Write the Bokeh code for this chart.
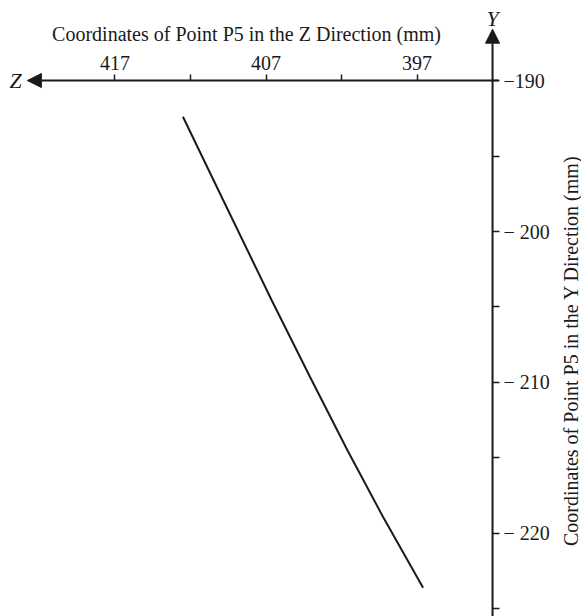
import math
from bokeh.plotting import figure
from bokeh.models import (Range1d, LinearAxis, FixedTicker, Arrow, NormalHead, Label)
from bokeh.embed import file_html
from bokeh.resources import INLINE

# ---- data ----
z_mm = [412.5, 409.8, 406.6, 404.1, 401.6, 399.2, 396.6]
y_mm = [-192.4, -198.0, -204.6, -209.6, -214.5, -219.0, -223.6]

z_major = [417, 407, 397]
z_minor = [412, 402]
y_major = [-190, -200, -210, -220]
y_minor = [-195, -205, -215, -225]
y_tick_labels = ["\u2212190", "\u2212 200", "\u2212 210", "\u2212 220"]

z_title = "Coordinates of Point P5 in the Z Direction (mm)"
y_title = "Coordinates of Point P5 in the Y Direction (mm)"

FONT = "Liberation Serif"
INK = "#1a1a1a"

p = figure(width=581, height=616, output_backend="svg", toolbar_location=None,
           x_axis_location=None, y_axis_location=None,
           x_range=Range1d(424.58, 386.11), y_range=Range1d(-225.5, -184.7),
           min_border=0, outline_line_color=None)
p.xgrid.visible = False
p.ygrid.visible = False

# axis arrows (axis lines)
p.add_layout(Arrow(end=NormalHead(size=14, fill_color=INK, line_color=INK),
                   x_start=391.6, y_start=-190, x_end=422.8, y_end=-190,
                   line_color=INK, line_width=2))
p.add_layout(Arrow(end=NormalHead(size=14, fill_color=INK, line_color=INK),
                   x_start=392, y_start=-226, x_end=392, y_end=-186.6,
                   line_color=INK, line_width=2))

def style(ax, tick_out, standoff):
    ax.axis_line_color = None
    ax.major_tick_out = tick_out
    ax.major_tick_in = 0
    ax.minor_tick_out = tick_out
    ax.minor_tick_in = 0
    ax.major_tick_line_color = INK
    ax.minor_tick_line_color = INK
    ax.major_tick_line_width = 1.5
    ax.minor_tick_line_width = 1.5
    ax.major_label_text_font = FONT
    ax.major_label_text_font_size = "20px"
    ax.major_label_text_color = INK
    ax.major_label_standoff = standoff

# top Z axis
xa = LinearAxis(fixed_location=-190, bounds=(392, 422.6),
                ticker=FixedTicker(ticks=z_major, minor_ticks=z_minor))
style(xa, 6, 5)
p.add_layout(xa, "above")

# right Y axis
ya = LinearAxis(fixed_location=392, bounds=(-226, -190),
                ticker=FixedTicker(ticks=y_major, minor_ticks=y_minor))
ya.major_label_overrides = {v: s for v, s in zip(y_major, y_tick_labels)}
style(ya, 7, 4)
p.add_layout(ya, "right")

# the curve
p.line(z_mm, y_mm, line_color=INK, line_width=2)

# axis titles
p.add_layout(Label(x=246, y=616 - 33, x_units="screen", y_units="screen", text=z_title,
                   text_font=FONT, text_font_size="20px", text_color=INK,
                   text_align="center", text_baseline="middle"))
p.add_layout(Label(x=570, y=616 - 350, x_units="screen", y_units="screen", text=y_title,
                   angle=math.pi / 2,
                   text_font=FONT, text_font_size="20px", text_color=INK,
                   text_align="center", text_baseline="middle"))

# axis letters
p.add_layout(Label(x=492, y=616 - 18, x_units="screen", y_units="screen", text="Y",
                   text_font=FONT, text_font_style="italic", text_font_size="22px",
                   text_color=INK, text_align="center", text_baseline="middle"))
p.add_layout(Label(x=15, y=616 - 80, x_units="screen", y_units="screen", text="Z",
                   text_font=FONT, text_font_style="italic", text_font_size="22px",
                   text_color=INK, text_align="center", text_baseline="middle"))

open("out.html", "w").write(file_html(p, INLINE))
